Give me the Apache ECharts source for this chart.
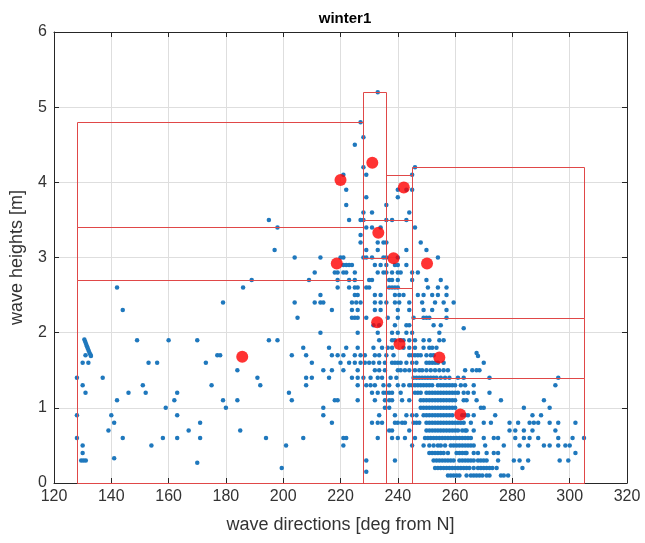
<!DOCTYPE html>
<html>
<head>
<meta charset="utf-8">
<script src="https://cdn.jsdelivr.net/npm/echarts@6/dist/echarts.min.js"></script>
<style>
  html, body { margin: 0; padding: 0; background: #ffffff; }
  #chart { width: 645px; height: 543px; }
</style>
</head>
<body>
<div id="chart"></div>
<script>
// Wave observations, grouped by height row [m]; each row lists wave directions [deg from N]
const rowHeights = [5.2, 4.8, 4.6, 4.5, 4.2, 4.1, 3.9, 3.8, 3.7, 3.6, 3.5, 3.4, 3.3, 3.2, 3.1, 3.0,
  2.9, 2.8, 2.7, 2.6, 2.5, 2.4, 2.3, 2.2, 2.1, 2.0, 1.9, 1.8, 1.7, 1.6, 1.5, 1.4, 1.3, 1.2, 1.1,
  1.0, 0.9, 0.8, 0.7, 0.6, 0.5, 0.4, 0.3, 0.2, 0.1];
const rowDirections = [
  [233],
  [227],
  [228],
  [225],
  [228, 246],
  [221, 229, 245],
  [222, 240, 243, 245],
  [229, 240],
  [222, 236],
  [228, 231, 244],
  [195, 223, 227, 228, 236, 238, 243],
  [198, 229, 231, 234, 246],
  [227],
  [227, 233, 235, 236, 248],
  [197, 229, 233, 243, 250],
  [204, 213, 220, 221, 228, 229, 231, 235, 236, 240, 254],
  [221, 222, 223, 224, 232, 234, 236, 239, 240, 243],
  [211, 218, 219, 221, 222, 225, 233, 235, 236, 238, 240, 241, 245, 247],
  [189, 209, 219, 223, 225, 230, 231, 237, 238, 240, 245, 250, 255],
  [142, 186, 219, 223, 225, 226, 229, 230, 237, 238, 239, 240, 250.5, 254, 257],
  [213, 225, 226, 232, 234, 239, 240.5, 242, 247, 249, 252, 254, 257],
  [179, 204, 211, 213, 214, 224, 225.5, 227, 232, 234, 236, 239, 240.5, 244, 248.5, 253, 256, 259.5],
  [144, 217, 224, 226, 232, 234, 240, 244, 249, 252, 257],
  [205, 224, 225, 226, 229, 236.5, 240, 245.5, 249, 250, 251, 257],
  [231.5, 233.5, 239, 243, 244, 252.5, 255],
  [213, 226, 233, 238, 240, 243, 245, 254.5],
  [149, 160, 170, 195, 198, 233.5, 238, 239, 241, 242, 244, 246, 249, 251, 254.5, 256],
  [207, 216, 222, 226, 231.5, 234.5, 236.5, 238, 242, 244, 246, 249, 251, 252, 253.5],
  [131, 177, 178, 203, 208, 217, 219, 221, 225, 227, 228.5, 232, 233.5, 236, 238.5, 244, 245, 246,
    247, 248, 250, 251.5, 252.5],
  [130, 132, 153, 156, 173, 210, 220, 223, 225, 227, 228.5, 230, 231.5, 233.5, 235.5, 238, 239, 240,
    241, 243, 245, 246.5, 250, 251, 252, 253, 254, 256, 270],
  [184, 214, 217, 221, 226, 232, 233.5, 235.5, 240, 241, 242.5, 244, 246, 247.5, 248.5, 250, 251.5,
    253, 254.5, 256, 257.5, 263.5, 266, 267.5, 268.5],
  [128, 137, 191, 208, 210, 216, 224, 226, 228, 230.5, 233, 234.5, 237.5, 239.5, 245.5, 246.5, 247.5,
    248.5, 249.5, 250.5, 251.5, 252.5, 253.5, 255, 256.5, 258, 261, 263, 272, 296],
  [130, 151, 175, 192, 208, 226, 229, 230.5, 232, 235, 237, 240, 242, 244, 245, 246, 247, 248, 249,
    250, 251, 252, 254, 255, 256, 257, 258, 259, 260, 262, 263.5, 266.5, 295],
  [131, 146, 152, 163, 202, 231, 233, 235, 236, 237, 238, 241, 246, 247, 248, 250, 251, 252, 253,
    254, 255, 256, 257, 258, 259, 260, 261, 263, 264.5, 266.5, 272],
  [142, 162, 179, 184, 203, 218, 219, 226, 232, 235.5, 237, 238, 241.5, 244, 248, 249, 250, 251, 252,
    253, 254, 255, 256, 257, 258, 259, 260, 263, 264, 267.5, 276, 291],
  [159, 180, 214, 235.5, 237, 248, 249, 250, 251, 252, 253, 254, 255, 256, 257, 258, 259, 260, 269,
    270, 284, 293],
  [128, 140, 163, 214, 233.5, 239, 243, 245, 246.5, 249, 250, 251, 252, 253, 254, 255, 256, 257, 258,
    259, 262.5, 263.5, 264.5, 266.5, 274, 287, 290],
  [141, 171, 217, 231, 233, 234.5, 239, 240, 241.5, 242.5, 245.5, 246.5, 247.5, 250, 251, 252, 253,
    254, 255, 256, 257, 258, 259, 260, 261, 262, 263, 265.5, 270, 272.5, 279, 282, 286, 287.5, 289,
    293, 296, 302],
  [139, 167, 185, 237, 238, 244, 250, 251, 252, 253, 254, 255, 256, 257, 258, 259, 260, 261, 262.5,
    263.5, 264, 266.5, 279, 281, 284, 287, 295],
  [128, 144, 158, 163, 171, 194, 207, 221, 222, 233, 238, 240, 242.5, 246, 249.5, 250.5, 251.5, 252.5,
    253.5, 254.5, 255.5, 256.5, 257.5, 258.5, 259.5, 260.5, 261.5, 262.5, 263.5, 264.5, 265.5, 270,
    273.5, 275, 281, 284, 286, 289, 296, 301, 305],
  [130, 154, 201, 221, 245, 249, 251, 252.5, 254, 255, 256.5, 258.5, 259.5, 260.5, 261.5, 262.5,
    263.5, 264.5, 265.5, 266.5, 270.5, 277, 282.5, 285.5, 291, 293, 296, 298.5, 300],
  [130, 251, 252, 253, 254, 255, 256, 257.5, 260.5, 261.5, 262.5, 263.5, 264, 266.5, 268, 271, 273.5,
    275, 302],
  [129.5, 130.3, 131.1, 229, 239, 252.5, 253.5, 254.5, 255.5, 256.5, 257.5, 258.5, 259.5, 261.5,
    262.5, 263.5, 264.5, 265.5, 266.5, 268, 269, 270, 271, 275, 280.5, 282.5, 285.5, 296.5, 299.5],
  [199.5, 253, 254, 255, 256, 257, 258, 259, 260, 261, 262, 263, 264, 265, 266.5, 268, 269, 270, 271,
    272, 273, 274.5, 283.5],
  [257.5, 258.5, 259.5, 260.5, 261.5, 264, 265.5, 266.5, 267.5, 268.5, 269.5, 271, 272, 276, 277, 278.5]
];
// Observations whose heights fall between the rows above [direction, height]
const offRowPoints = [
  [130.6, 1.91], [130.9, 1.88], [131.2, 1.85], [131.5, 1.82], [131.8, 1.79], [132.1, 1.76],
  [132.4, 1.73], [132.7, 1.71], [132.9, 1.69],
  [263, 2.06], [267.5, 1.73], [268, 1.69], [141, 0.33], [170, 0.27], [229, 0.15]
];

// Direction sectors and the height class edges inside each sector
const sectorEdges = [128, 228, 236, 245, 305];
const sectorHeightEdges = [
  [0, 2.7, 3.4, 4.8],
  [0, 3.0, 3.5, 5.2],
  [0, 2.6, 3.5, 4.1],
  [0, 1.4, 2.2, 4.2]
];

// Mean direction and height of each class
const meanDirections = [185.7, 218.7, 220.0, 232.8, 233.2, 231.1, 240.6, 238.5, 242.1, 261.8, 254.5, 250.2];
const meanHeights    = [1.68,  2.92,  4.03,  2.14,  3.33,  4.26,  1.85,  2.99,  3.93,  0.91,  1.67,  2.92];

const observations = [];
rowHeights.forEach((h, i) => rowDirections[i].forEach(d => observations.push([d, h])));
offRowPoints.forEach(p => observations.push(p));

const classBoxes = [];
sectorHeightEdges.forEach((edges, s) => {
  for (let j = 0; j < edges.length - 1; j++) {
    classBoxes.push([sectorEdges[s], sectorEdges[s + 1], edges[j], edges[j + 1]]);
  }
});

const means = meanDirections.map((d, i) => [d, meanHeights[i]]);

const FONT = '"Liberation Sans", Arial, Helvetica, sans-serif';
const AXIS_COLOR = '#262626';
const TEXT_COLOR = '#333333';
const GRID_COLOR = '#dedede';

const chart = echarts.init(document.getElementById('chart'), null, { renderer: 'canvas' });

const mainX = {
  type: 'value', min: 120, max: 320, interval: 20, position: 'bottom',
  name: 'wave directions [deg from N]', nameLocation: 'middle', nameGap: 33,
  nameTextStyle: { fontFamily: FONT, fontSize: 18, color: TEXT_COLOR },
  axisLine: { show: true, onZero: false, lineStyle: { color: AXIS_COLOR, width: 1 } },
  axisTick: { show: true, inside: true, length: 5, lineStyle: { color: AXIS_COLOR } },
  axisLabel: { fontFamily: FONT, fontSize: 16, color: TEXT_COLOR, margin: 6 },
  splitLine: { show: true, lineStyle: { color: GRID_COLOR, width: 1 } }
};
const mainY = {
  type: 'value', min: 0, max: 6, interval: 1, position: 'left',
  name: 'wave heights [m]', nameLocation: 'middle', nameGap: 28, nameRotate: 90,
  nameTextStyle: { fontFamily: FONT, fontSize: 18, color: TEXT_COLOR },
  axisLine: { show: true, onZero: false, lineStyle: { color: AXIS_COLOR, width: 1 } },
  axisTick: { show: true, inside: true, length: 5, lineStyle: { color: AXIS_COLOR } },
  axisLabel: { fontFamily: FONT, fontSize: 16, color: TEXT_COLOR, margin: 7 },
  splitLine: { show: true, lineStyle: { color: GRID_COLOR, width: 1 } }
};
const mirrorX = {
  type: 'value', min: 120, max: 320, interval: 20, position: 'top',
  axisLine: { show: true, onZero: false, lineStyle: { color: AXIS_COLOR, width: 1 } },
  axisTick: { show: true, inside: true, length: 5, lineStyle: { color: AXIS_COLOR } },
  axisLabel: { show: false }, splitLine: { show: false }
};
const mirrorY = {
  type: 'value', min: 0, max: 6, interval: 1, position: 'right',
  axisLine: { show: true, onZero: false, lineStyle: { color: AXIS_COLOR, width: 1 } },
  axisTick: { show: true, inside: true, length: 5, lineStyle: { color: AXIS_COLOR } },
  axisLabel: { show: false }, splitLine: { show: false }
};

chart.setOption({
  animation: false,
  backgroundColor: '#ffffff',
  title: {
    text: 'winter1', left: 340, top: 6, textAlign: 'center',
    textStyle: { fontFamily: FONT, fontSize: 15, fontWeight: 'bold', color: '#000000' }
  },
  grid: { left: 53, right: 18, top: 32, bottom: 60, containLabel: false },
  xAxis: [mainX, mirrorX],
  yAxis: [mainY, mirrorY],
  series: [
    {
      name: 'observations', type: 'scatter', xAxisIndex: 0, yAxisIndex: 0,
      data: observations, symbol: 'circle', symbolSize: 4.5,
      itemStyle: { color: '#1f78bd', opacity: 1 }, z: 2
    },
    {
      name: 'classes', type: 'custom', xAxisIndex: 0, yAxisIndex: 0,
      data: classBoxes, encode: { x: [0, 1], y: [2, 3] },
      renderItem: (params, api) => {
        const topLeft = api.coord([api.value(0), api.value(3)]);
        const bottomRight = api.coord([api.value(1), api.value(2)]);
        const x0 = Math.round(topLeft[0]) + 0.5, y0 = Math.round(topLeft[1]) + 0.5;
        const x1 = Math.round(bottomRight[0]) + 0.5, y1 = Math.round(bottomRight[1]) + 0.5;
        return {
          type: 'rect',
          shape: { x: x0, y: y0, width: x1 - x0, height: y1 - y0 },
          style: { fill: 'none', stroke: '#e04848', lineWidth: 1 }
        };
      },
      z: 3
    },
    {
      name: 'class means', type: 'scatter', xAxisIndex: 0, yAxisIndex: 0,
      data: means, symbol: 'circle', symbolSize: 12,
      itemStyle: { color: '#ff0000' }, z: 4
    }
  ]
});
</script>
</body>
</html>
